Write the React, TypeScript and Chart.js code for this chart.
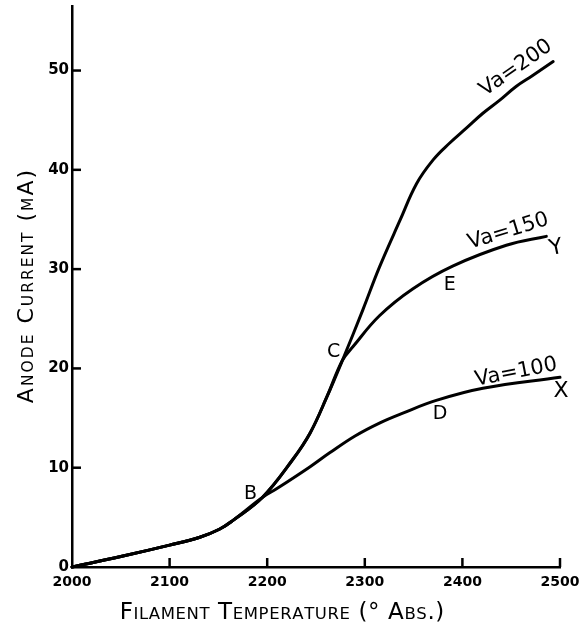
import React, { useEffect, useRef } from "react";
import { Chart, registerables } from "chart.js";

Chart.register(...registerables);

// ---- data ----
const xTickValues = [2000, 2100, 2200, 2300, 2400, 2500];
const yTickValues = [0, 10, 20, 30, 40, 50];

const va200Temps = [2000, 2050, 2100, 2131, 2151, 2165, 2195, 2226, 2244, 2261, 2277, 2298, 2315, 2336, 2353, 2370, 2387, 2404, 2421, 2438, 2455, 2472, 2493];
const va200Currents = [0, 1.05, 2.2, 3.0, 3.8, 4.7, 7.0, 10.8, 13.5, 17.1, 20.8, 25.9, 30.2, 34.9, 38.6, 41.0, 42.7, 44.2, 45.7, 47.0, 48.4, 49.5, 50.9];

const va150Temps = [2000, 2050, 2100, 2131, 2151, 2165, 2195, 2226, 2244, 2261, 2277, 2288, 2315, 2349, 2390, 2445, 2486];
const va150Currents = [0, 1.05, 2.2, 3.0, 3.8, 4.7, 7.0, 10.8, 13.5, 17.1, 20.8, 22.2, 25.3, 28.0, 30.3, 32.4, 33.3];

const va100Temps = [2000, 2050, 2100, 2131, 2151, 2165, 2195, 2210, 2244, 2264, 2290, 2315, 2339, 2374, 2421, 2500];
const va100Currents = [0, 1.05, 2.2, 3.0, 3.8, 4.7, 7.0, 7.9, 10.1, 11.5, 13.2, 14.5, 15.5, 16.8, 18.0, 19.1];

const seriesNames = ["Va=200", "Va=150", "Va=100"];

const noteTexts = ["Va=200", "Va=150", "Va=100", "X", "Y", "B", "C", "D", "E"];
const noteTemps = [2455, 2447, 2455, 2501, 2496, 2183, 2268, 2377, 2387];
const noteCurrents = [50.25, 33.8, 19.6, 17.65, 32.1, 7.35, 21.65, 15.4, 28.4];
const noteAngles = [-35, -17, -11, 0, -12, 0, 0, 0, 0];

const xTitle = "Filament Temperature (° Abs.)";
const yTitle = "Anode Current (mA)";

const X_MIN = 2000;
const X_MAX = 2500;
const Y_MIN = 0;
const Y_MAX = 56.5;

// ---- helpers ----
const FAMILY = "'DejaVu Sans', 'Liberation Sans', sans-serif";

function toPoints(xs: number[], ys: number[]) {
  return xs.map((x, i) => ({ x, y: ys[i] }));
}

function drawSmallCaps(
  ctx: CanvasRenderingContext2D,
  text: string,
  bigSize: number,
  smallSize: number,
  spacing: number
) {
  const chars = Array.from(text);
  const items = chars.map((ch) => {
    const small = /[a-z]/.test(ch);
    const font = `${small ? smallSize : bigSize}px ${FAMILY}`;
    ctx.font = font;
    const glyph = ch.toUpperCase();
    return { glyph, font, w: ctx.measureText(glyph).width };
  });
  const total = items.reduce((s, it) => s + it.w, 0) + spacing * (items.length - 1);
  let x = -total / 2;
  ctx.textAlign = "left";
  ctx.textBaseline = "alphabetic";
  for (const it of items) {
    ctx.font = it.font;
    ctx.fillText(it.glyph, x, 0);
    x += it.w + spacing;
  }
}

const decorPlugin = {
  id: "decor",
  afterDraw(chart: any) {
    const { ctx, chartArea, scales } = chart;
    const xs = scales.x;
    const ys = scales.y;
    ctx.save();
    ctx.strokeStyle = "#000";
    ctx.fillStyle = "#000";
    ctx.lineWidth = 2.5;
    ctx.lineCap = "butt";
    // inward tick marks
    for (const v of yTickValues) {
      if (v === Y_MIN) continue;
      const py = ys.getPixelForValue(v);
      ctx.beginPath();
      ctx.moveTo(chartArea.left, py);
      ctx.lineTo(chartArea.left + 9, py);
      ctx.stroke();
    }
    for (const v of xTickValues) {
      if (v === X_MIN) continue;
      const px = xs.getPixelForValue(v);
      ctx.beginPath();
      ctx.moveTo(px, chartArea.bottom);
      ctx.lineTo(px, chartArea.bottom - 9);
      ctx.stroke();
    }
    // curve annotations
    noteTexts.forEach((t, i) => {
      const px = xs.getPixelForValue(noteTemps[i]);
      const py = ys.getPixelForValue(noteCurrents[i]);
      const isLong = t.length > 1;
      ctx.save();
      ctx.translate(px, py);
      ctx.rotate((noteAngles[i] * Math.PI) / 180);
      ctx.font = `${isLong ? 21 : t === "X" || t === "Y" ? 22 : 19}px ${FAMILY}`;
      ctx.textAlign = "center";
      ctx.textBaseline = "middle";
      ctx.fillText(t, 0, 0);
      ctx.restore();
    });
    // axis titles (small-caps lettering)
    ctx.save();
    ctx.translate((chartArea.left + chartArea.right) / 2 - 34, chartArea.bottom + 52);
    drawSmallCaps(ctx, xTitle, 23, 16.5, 0.6);
    ctx.restore();
    ctx.save();
    ctx.translate(chartArea.left - 39, (chartArea.top + chartArea.bottom) / 2);
    ctx.rotate(-Math.PI / 2);
    drawSmallCaps(ctx, yTitle, 22, 15.5, 2);
    ctx.restore();
    ctx.restore();
  },
};

export default function App() {
  const canvasRef = useRef<HTMLCanvasElement | null>(null);

  useEffect(() => {
    if (!canvasRef.current) return;
    const lineStyle = {
      borderColor: "#000",
      backgroundColor: "#000",
      borderWidth: 3,
      pointRadius: 0,
      fill: false,
      tension: 0.4,
      borderCapStyle: "round" as const,
      borderJoinStyle: "round" as const,
      clip: false as any,
    };
    const chart = new Chart(canvasRef.current, {
      type: "line",
      data: {
        datasets: [
          { label: seriesNames[0], data: toPoints(va200Temps, va200Currents), ...lineStyle },
          { label: seriesNames[1], data: toPoints(va150Temps, va150Currents), ...lineStyle },
          { label: seriesNames[2], data: toPoints(va100Temps, va100Currents), ...lineStyle },
        ],
      },
      options: {
        responsive: false,
        animation: false,
        layout: { padding: { left: 0, right: 22, top: 6, bottom: 0 } },
        plugins: {
          legend: { display: false },
          tooltip: { enabled: false },
        },
        scales: {
          x: {
            type: "linear",
            min: X_MIN,
            max: X_MAX,
            afterBuildTicks: (scale: any) => {
              scale.ticks = xTickValues.map((v) => ({ value: v }));
            },
            afterFit: (scale: any) => {
              scale.height = 60;
              scale.paddingLeft = 0;
              scale.paddingRight = 0;
            },
            grid: { display: true, drawOnChartArea: false, drawTicks: false },
            border: { display: true, color: "#000", width: 2.5 },
            ticks: {
              color: "#000",
              padding: 7,
              maxRotation: 0,
              autoSkip: false,
              font: { family: FAMILY, size: 14, weight: "bold" },
              callback: (v: any) => String(v),
            },
          },
          y: {
            type: "linear",
            min: Y_MIN,
            max: Y_MAX,
            afterBuildTicks: (scale: any) => {
              scale.ticks = yTickValues.map((v) => ({ value: v }));
            },
            afterFit: (scale: any) => {
              scale.width = 72;
              scale.paddingTop = 0;
              scale.paddingBottom = 0;
            },
            grid: { display: true, drawOnChartArea: false, drawTicks: false },
            border: { display: true, color: "#000", width: 2.5 },
            ticks: {
              color: "#000",
              padding: 3,
              autoSkip: false,
              font: { family: FAMILY, size: 15, weight: "bold" },
              callback: (v: any) => String(v),
            },
          },
        },
      },
      plugins: [decorPlugin],
    });
    return () => chart.destroy();
  }, []);

  return (
    <div style={{ position: "absolute", left: 0, top: 0, width: 582, height: 627, background: "#fff" }}>
      <canvas ref={canvasRef} width={582} height={627} />
    </div>
  );
}
